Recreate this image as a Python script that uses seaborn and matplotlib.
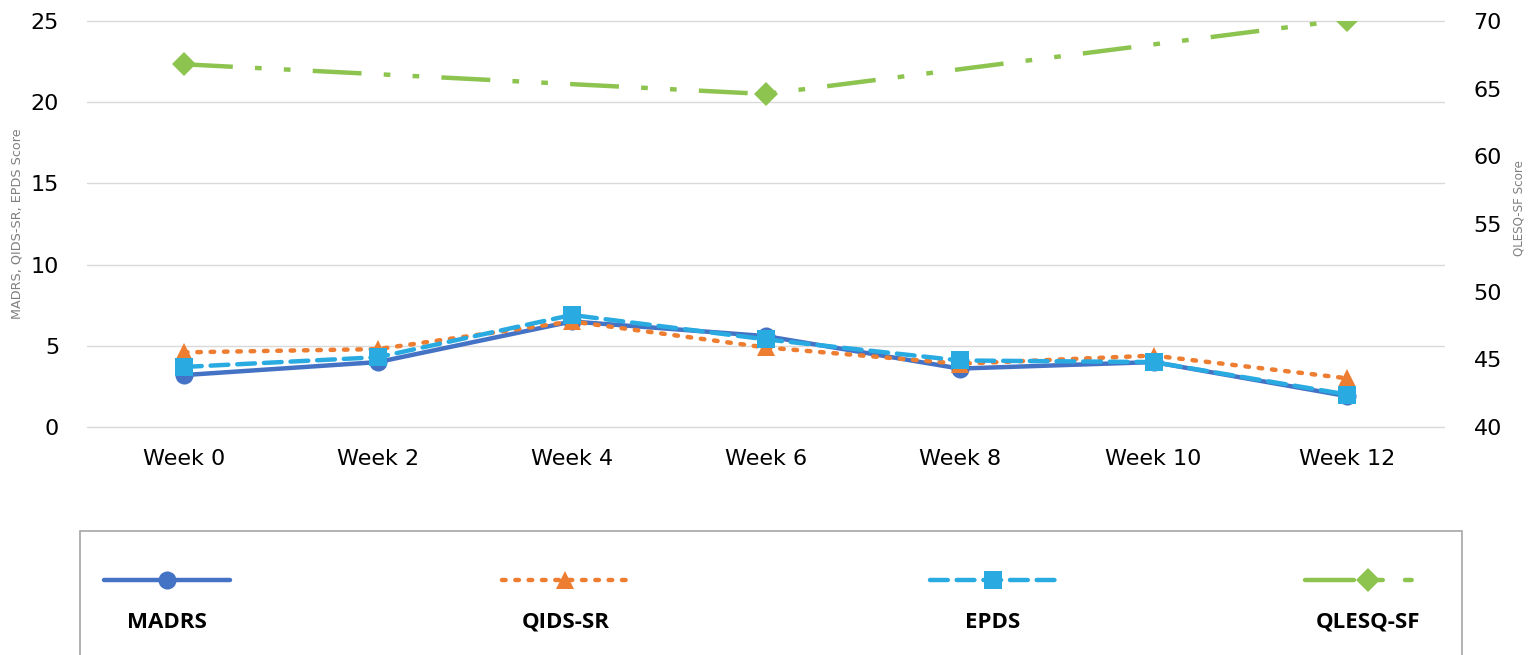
import matplotlib
matplotlib.use('Agg')
import matplotlib.pyplot as plt
from matplotlib.lines import Line2D
from matplotlib.patches import Rectangle
import numpy as np
import seaborn as sns

weeks = ['Week 0', 'Week 2', 'Week 4', 'Week 6', 'Week 8', 'Week 10', 'Week 12']
madrs = [3.2, 4.0, 6.5, 5.6, 3.6, 4.0, 1.9]
qids_sr = [4.6, 4.8, 6.5, 4.9, 3.9, 4.4, 3.0]
epds = [3.7, 4.3, 6.9, 5.4, 4.1, 4.0, 2.0]
# QLESQ-SF only measured at weeks 0, 6 and 12
qlesq_sf = [66.8, np.nan, np.nan, 64.6, np.nan, np.nan, 70.1]

sns.set_style('white')
plt.rcParams['font.family'] = ['DejaVu Sans']

fig = plt.figure(figsize=(15.32, 6.55), dpi=100)
ax = fig.add_axes([0.0568, 0.348, 0.886, 0.62])

# series styles: colour, marker, dash pattern
styles = {
    'MADRS': ('#4472C4', 'o', '-'),
    'QIDS-SR': ('#ED7D31', '^', (0, (0.8, 2.2))),
    'EPDS': ('#29ABE2', 's', (0, (4, 2))),
    'QLESQ-SF': ('#8DC450', 'D', (0, (11, 5, 1.5, 5, 1.5, 5))),
}

for name, vals in [('MADRS', madrs), ('QIDS-SR', qids_sr), ('EPDS', epds)]:
    c, m, ls = styles[name]
    sns.lineplot(x=weeks, y=vals, ax=ax, sort=False, color=c, marker=m,
                 markersize=13, markeredgewidth=0, linewidth=3.2,
                 linestyle=ls, dash_capstyle='round')

ax2 = ax.twinx()
c, m, ls = styles['QLESQ-SF']
sns.lineplot(x=weeks, y=qlesq_sf, ax=ax2, sort=False, color=c, marker=m,
             markersize=12, markeredgewidth=0, linewidth=3.2, linestyle=ls)

ax.set_xlim(-0.5, len(weeks) - 0.5)
ax.set_ylim(0, 25)
ax.set_yticks(range(0, 26, 5))
ax2.set_ylim(40, 70)
ax2.set_yticks(range(40, 71, 5))

ax.grid(axis='y', color='#d9d9d9', linewidth=1)
for gl in ax.get_ygridlines():
    gl.set_clip_on(False)
ax.set_axisbelow(True)
for a in (ax, ax2):
    for s in a.spines.values():
        s.set_visible(False)
    a.tick_params(length=0, labelsize=16, colors='#000000', pad=14)
ax.tick_params(axis='x', pad=16)
ax.tick_params(axis='y', pad=20)
ax2.tick_params(axis='y', pad=21)

ax.set_ylabel('MADRS, QIDS-SR, EPDS Score', fontsize=9.2, color='#808080')
ax.yaxis.set_label_coords(-0.0465, 0.5)
ax2.set_ylabel('QLESQ-SF Score', fontsize=8.6, color='#808080')
ax2.yaxis.set_label_coords(1.05, 0.54)
ax.set_xlabel('')

# legend box at the bottom, handle above label
fig.add_artist(Rectangle((0.0522, -0.1), 0.902, 0.2893, transform=fig.transFigure,
                         facecolor='white', edgecolor='#a6a6a6', linewidth=1.2))
centers = [0.109, 0.369, 0.648, 0.893]
for xc, name in zip(centers, styles):
    c, m, ls = styles[name]
    ms = 12 if name == 'QLESQ-SF' else 13
    fig.add_artist(Line2D([xc - 0.041, xc + 0.041], [0.1145, 0.1145], transform=fig.transFigure,
                          color=c, linestyle=ls, linewidth=3.2, dash_capstyle='round'))
    fig.add_artist(Line2D([xc], [0.1145], transform=fig.transFigure, color=c, marker=m,
                          markersize=ms, markeredgewidth=0, linestyle='none'))
    fig.text(xc, 0.05, name, ha='center', va='center', fontsize=16, color='black',
             fontweight='bold', fontstretch='condensed', family=['Open Sans', 'DejaVu Sans'])

fig.savefig('out.png', dpi=100)
